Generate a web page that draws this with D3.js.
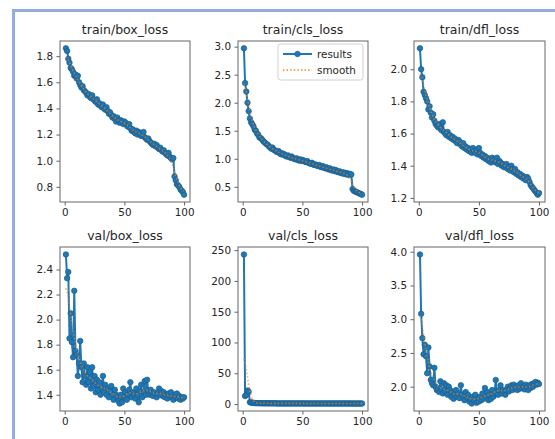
<!DOCTYPE html>
<html>
<head>
<meta charset="utf-8">
<script src="https://cdn.jsdelivr.net/npm/d3@7"></script>
<style>
  html, body { margin: 0; padding: 0; background: #ffffff; }
  svg { display: block; }
  text { font-family: "DejaVu Sans", sans-serif; fill: #262626; }
</style>
</head>
<body>
<svg id="chart" width="555" height="439"></svg>
<script>
// Training / validation losses per epoch (YOLO results.csv)
const epochs = d3.range(1, 101);

const trainBoxLoss = [
  1.86, 1.84, 1.78, 1.75, 1.71, 1.70, 1.68, 1.65, 1.66, 1.63,
  1.65, 1.60, 1.58, 1.56, 1.57, 1.54, 1.53, 1.52, 1.50, 1.51,
  1.49, 1.48, 1.50, 1.47, 1.46, 1.45, 1.47, 1.43, 1.44, 1.42,
  1.41, 1.43, 1.40, 1.39, 1.41, 1.38, 1.36, 1.37, 1.35, 1.33,
  1.34, 1.32, 1.30, 1.33, 1.31, 1.29, 1.31, 1.30, 1.28, 1.30,
  1.29, 1.27, 1.26, 1.28, 1.25, 1.23, 1.24, 1.22, 1.21, 1.23,
  1.20, 1.22, 1.21, 1.19, 1.20, 1.22, 1.18, 1.17, 1.16, 1.17,
  1.15, 1.14, 1.13, 1.12, 1.13, 1.11, 1.12, 1.10, 1.09, 1.10,
  1.08, 1.07, 1.08, 1.06, 1.05, 1.04, 1.06, 1.03, 1.02, 1.01,
  1.02, 0.88, 0.85, 0.82, 0.81, 0.80, 0.78, 0.77, 0.76, 0.74
];

const trainClsLoss = [
  2.97, 2.35, 2.20, 2.00, 1.85, 1.72, 1.65, 1.62, 1.58, 1.52,
  1.50, 1.45, 1.43, 1.38, 1.37, 1.35, 1.32, 1.30, 1.28, 1.26,
  1.25, 1.22, 1.20, 1.18, 1.20, 1.16, 1.15, 1.13, 1.12, 1.14,
  1.10, 1.08, 1.10, 1.07, 1.08, 1.05, 1.04, 1.06, 1.03, 1.02,
  1.04, 1.01, 1.00, 0.99, 1.01, 0.98, 0.97, 0.99, 0.96, 0.98,
  0.97, 0.95, 0.94, 0.96, 0.93, 0.92, 0.91, 0.93, 0.90, 0.89,
  0.90, 0.88, 0.87, 0.89, 0.86, 0.85, 0.87, 0.84, 0.83, 0.85,
  0.82, 0.81, 0.83, 0.80, 0.79, 0.81, 0.78, 0.80, 0.77, 0.76,
  0.78, 0.75, 0.74, 0.76, 0.73, 0.75, 0.72, 0.74, 0.71, 0.73,
  0.72, 0.46, 0.43, 0.42, 0.41, 0.40, 0.39, 0.38, 0.37, 0.36
];

const trainDflLoss = [
  2.13, 2.00, 1.95, 1.86, 1.84, 1.82, 1.80, 1.75, 1.77, 1.73,
  1.70, 1.72, 1.68, 1.66, 1.65, 1.64, 1.66, 1.63, 1.62, 1.67,
  1.61, 1.60, 1.59, 1.61, 1.58, 1.59, 1.57, 1.58, 1.56, 1.57,
  1.55, 1.54, 1.56, 1.55, 1.53, 1.52, 1.54, 1.51, 1.52, 1.50,
  1.51, 1.49, 1.50, 1.48, 1.51, 1.49, 1.48, 1.50, 1.47, 1.51,
  1.48, 1.46, 1.47, 1.45, 1.46, 1.44, 1.45, 1.43, 1.44, 1.42,
  1.45, 1.43, 1.44, 1.42, 1.45, 1.41, 1.43, 1.42, 1.40, 1.41,
  1.39, 1.40, 1.41, 1.38, 1.39, 1.37, 1.40, 1.38, 1.36, 1.38,
  1.35, 1.36, 1.34, 1.35, 1.33, 1.34, 1.32, 1.33, 1.31, 1.33,
  1.32, 1.30, 1.28, 1.27, 1.26, 1.25, 1.24, 1.23, 1.22, 1.23
];

const valBoxLoss = [
  2.52, 2.33, 2.38, 1.85, 2.05, 1.82, 1.70, 2.23, 1.75, 1.72,
  1.55, 1.65, 1.83, 1.62, 1.50, 1.65, 1.55, 1.48, 1.62, 1.50,
  1.58, 1.45, 1.62, 1.47, 1.55, 1.42, 1.52, 1.44, 1.50, 1.40,
  1.45, 1.55, 1.42, 1.48, 1.40, 1.45, 1.38, 1.43, 1.47, 1.40,
  1.36, 1.44, 1.40, 1.38, 1.35, 1.33, 1.40, 1.34, 1.45, 1.38,
  1.42, 1.36, 1.40, 1.44, 1.50, 1.38, 1.42, 1.40, 1.37, 1.45,
  1.40, 1.34, 1.43, 1.48, 1.38, 1.42, 1.51, 1.40, 1.52, 1.43,
  1.40, 1.44, 1.41, 1.39, 1.42, 1.40, 1.38, 1.41, 1.45, 1.40,
  1.43, 1.39, 1.42, 1.38, 1.40, 1.37, 1.41, 1.39, 1.42, 1.38,
  1.36, 1.40, 1.38, 1.41, 1.37, 1.39, 1.36, 1.38, 1.37, 1.38
];

const valClsLoss = [
  243.0, 13.0, 15.0, 22.0, 20.0, 3.0, 2.2, 2.5, 1.8, 1.6,
  1.5, 1.4, 1.4, 1.3, 1.3, 1.3, 1.2, 1.2, 1.2, 1.2,
  1.2, 1.1, 1.1, 1.1, 1.1, 1.1, 1.1, 1.1, 1.0, 1.0,
  1.0, 1.0, 1.0, 1.0, 1.0, 1.0, 1.0, 1.0, 1.0, 1.0,
  1.0, 1.0, 1.0, 1.0, 1.0, 1.0, 1.0, 1.0, 1.0, 1.0,
  1.0, 0.9, 0.9, 0.9, 0.9, 0.9, 0.9, 0.9, 0.9, 0.9,
  0.9, 0.9, 0.9, 0.9, 0.9, 0.9, 0.9, 0.9, 0.9, 0.9,
  0.9, 0.9, 0.9, 0.9, 0.9, 0.9, 0.9, 0.9, 0.9, 0.9,
  0.9, 0.9, 0.9, 0.9, 0.9, 0.9, 0.9, 0.9, 0.9, 0.9,
  0.9, 0.8, 0.8, 0.8, 0.8, 0.8, 0.8, 0.8, 0.8, 0.8
];

const valDflLoss = [
  3.96, 3.08, 2.72, 2.48, 2.62, 2.45, 2.20, 2.58, 2.30, 2.10,
  2.05, 2.02, 2.28, 2.00, 1.95, 1.98, 1.92, 2.08, 1.95, 1.90,
  2.05, 1.93, 2.02, 1.88, 2.00, 1.95, 1.85, 1.92, 1.82, 1.88,
  1.95, 1.85, 1.90, 1.83, 2.02, 1.88, 1.85, 1.80, 1.92, 1.85,
  1.88, 1.78, 1.82, 1.75, 1.85, 1.80, 1.88, 1.76, 1.82, 1.78,
  1.85, 1.80, 1.90, 1.82, 1.98, 1.85, 1.92, 1.80, 1.88, 1.82,
  1.95, 1.85, 1.90, 2.10, 1.92, 1.88, 1.95, 2.02, 1.90, 1.95,
  1.92, 1.88, 1.95, 2.00, 1.93, 1.98, 2.02, 1.95, 2.03, 1.98,
  2.00, 1.95, 2.02, 1.97, 2.05, 1.98, 2.00, 1.96, 2.03, 1.99,
  1.95, 2.02, 1.98, 2.04, 2.00, 2.05, 2.07, 2.03, 2.06, 2.04
];

const titles = ["train/box_loss", "train/cls_loss", "train/dfl_loss",
                "val/box_loss", "val/cls_loss", "val/dfl_loss"];
const seriesList = [trainBoxLoss, trainClsLoss, trainDflLoss,
                    valBoxLoss, valClsLoss, valDflLoss];

const xTicks = [0, 50, 100];
const yTicksList = [
  [0.8, 1.0, 1.2, 1.4, 1.6, 1.8],
  [0.5, 1.0, 1.5, 2.0, 2.5, 3.0],
  [1.2, 1.4, 1.6, 1.8, 2.0],
  [1.4, 1.6, 1.8, 2.0, 2.2, 2.4],
  [0, 50, 100, 150, 200, 250],
  [2.0, 2.5, 3.0, 3.5, 4.0]
];
const legendLabels = ["results", "smooth"];

// ---- layout of the 2 x 3 grid of axes (pixel boxes) ----
const cols = [[60, 190], [238, 368], [414, 545]];
const rows = [[41, 202], [247, 411]];

const blue = "#1f77b4";
const blueEdge = "#1b5e8e";
const orange = "#ff7f0e";
const markerR = 2.75;

// scipy-style gaussian_filter1d, mode "reflect", truncate 4.0
function gaussianFilter1d(y, sigma) {
  const r = Math.round(4 * sigma);
  const w = d3.range(-r, r + 1).map(k => Math.exp(-0.5 * k * k / (sigma * sigma)));
  const ws = d3.sum(w);
  const n = y.length;
  const at = i => {
    while (i < 0 || i >= n) {
      if (i < 0) i = -i - 1;
      if (i >= n) i = 2 * n - i - 1;
    }
    return y[i];
  };
  return y.map((_, i) => {
    let s = 0;
    for (let k = -r; k <= r; k++) s += w[k + r] * at(i + k);
    return s / ws;
  });
}

const svg = d3.select("#chart");

// frame lines along the top and left edge of the figure
svg.append("rect").attr("x", 12).attr("y", 9).attr("width", 543).attr("height", 3)
  .attr("fill", "#93addf");
svg.append("rect").attr("x", 12).attr("y", 9).attr("width", 3).attr("height", 430)
  .attr("fill", "#93addf");

seriesList.forEach((vals, i) => {
  const [x0, x1] = cols[i % 3];
  const [y0, y1] = rows[Math.floor(i / 3)];

  // matplotlib-like 5% data margins
  const xe = d3.extent(epochs);
  const xm = (xe[1] - xe[0]) * 0.05;
  const ye = d3.extent(vals);
  const ym = (ye[1] - ye[0]) * 0.05;

  const x = d3.scaleLinear().domain([xe[0] - xm, xe[1] + xm]).range([x0, x1]);
  const y = d3.scaleLinear().domain([ye[0] - ym, ye[1] + ym]).range([y1, y0]);

  const g = svg.append("g");
  const yTicks = yTicksList[i];
  const fmt = yTicks.every(Number.isInteger) ? d3.format("d") : d3.format(".1f");

  const clipId = "clip" + i;
  svg.append("clipPath").attr("id", clipId)
    .append("rect").attr("x", x0).attr("y", y0).attr("width", x1 - x0).attr("height", y1 - y0);

  const plot = g.append("g").attr("clip-path", `url(#${clipId})`);

  const pts = epochs.map((e, k) => [e, vals[k]]);
  const line = d3.line().x(d => x(d[0])).y(d => y(d[1]));

  plot.append("path").datum(pts)
    .attr("d", line).attr("fill", "none")
    .attr("stroke", blue).attr("stroke-width", 2).attr("stroke-linejoin", "round");

  plot.selectAll("circle.pt").data(pts).join("circle")
    .attr("class", "pt")
    .attr("cx", d => x(d[0])).attr("cy", d => y(d[1]))
    .attr("r", markerR).attr("fill", blue).attr("stroke", blueEdge).attr("stroke-width", 0.7);

  const smooth = gaussianFilter1d(vals, 3);
  plot.append("path").datum(epochs.map((e, k) => [e, smooth[k]]))
    .attr("d", line).attr("fill", "none")
    .attr("stroke", orange).attr("stroke-width", 1.6)
    .attr("stroke-dasharray", "1.4,2.2").attr("opacity", 0.7);

  // axes
  const xAxis = d3.axisBottom(x).tickValues(xTicks).tickSize(3.6).tickPadding(3.4).tickFormat(d3.format("d"));
  const yAxis = d3.axisLeft(y).tickValues(yTicks).tickSize(3.6).tickPadding(3.4).tickFormat(fmt);

  const gx = g.append("g").attr("transform", `translate(0,${y1})`).call(xAxis);
  const gy = g.append("g").attr("transform", `translate(${x0},0)`).call(yAxis);
  [gx, gy].forEach(a => {
    a.select(".domain").remove();
    a.selectAll(".tick line").attr("stroke", "#555").attr("stroke-width", 0.9);
    a.selectAll(".tick text").attr("font-size", 10.4).attr("fill", "#2b2b2b")
      .attr("font-family", "DejaVu Sans, sans-serif");
  });

  // frame
  g.append("rect").attr("x", x0).attr("y", y0).attr("width", x1 - x0).attr("height", y1 - y0)
    .attr("fill", "none").attr("stroke", "#666").attr("stroke-width", 1);

  // title
  g.append("text").attr("x", (x0 + x1) / 2).attr("y", y0 - 7)
    .attr("text-anchor", "middle").attr("font-size", 12.5).text(titles[i]);

  // legend in the second panel
  if (i === 1) {
    const lw = 85, lh = 36;
    const lx = x1 - 5 - lw, ly = y0 + 3;
    const lg = g.append("g");
    lg.append("rect").attr("x", lx).attr("y", ly).attr("width", lw).attr("height", lh)
      .attr("rx", 2.5).attr("fill", "#ffffff").attr("fill-opacity", 0.85)
      .attr("stroke", "#cccccc").attr("stroke-width", 0.9);
    const r1 = ly + 10, r2 = ly + 26;
    lg.append("line").attr("x1", lx + 5).attr("x2", lx + 34).attr("y1", r1).attr("y2", r1)
      .attr("stroke", blue).attr("stroke-width", 2);
    lg.append("circle").attr("cx", lx + 19.5).attr("cy", r1).attr("r", markerR)
      .attr("fill", blue).attr("stroke", blueEdge).attr("stroke-width", 0.7);
    lg.append("line").attr("x1", lx + 5).attr("x2", lx + 34).attr("y1", r2).attr("y2", r2)
      .attr("stroke", orange).attr("stroke-width", 1.6).attr("stroke-dasharray", "1.4,2.2");
    lg.append("text").attr("x", lx + 39).attr("y", r1 + 3.8).attr("font-size", 10.4).text(legendLabels[0]);
    lg.append("text").attr("x", lx + 39).attr("y", r2 + 3.8).attr("font-size", 10.4).text(legendLabels[1]);
  }
});
</script>
</body>
</html>
